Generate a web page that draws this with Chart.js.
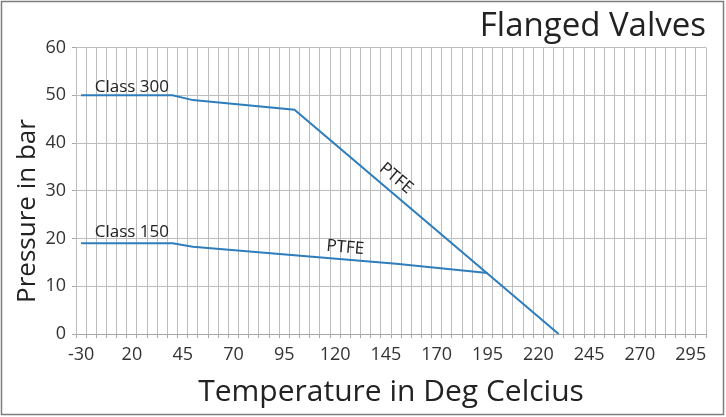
<!doctype html>
<html lang="en">
  <head>
    <title>Flanged Valves</title>
    <style>
      body { margin: 0; background: #fff; }
      #wrap { width: 726px; height: 417px; }
    </style>
  </head>
  <body>
  <div id="wrap"><canvas id="valves" width="726" height="417"></canvas></div>
  <script src="https://cdn.jsdelivr.net/npm/chart.js"></script>
  <script>

    // temperature categories (deg C)
    const temps = ['-30', '0', '5', '10', '15', '20', '25', '30', '35', '40', '45', '50', '55', '60', '65',
      '70', '75', '80', '85', '90', '95', '100', '105', '110', '115', '120', '125', '130', '135', '140',
      '145', '150', '155', '160', '165', '170', '175', '180', '185', '190', '195', '200', '205', '210',
      '215', '220', '225', '230', '235', '240', '245', '250', '255', '260', '265', '270', '275', '280',
      '285', '290', '295', '300'];

    const class300Temps = ['-30', '40', '50', '100', '230'];
    const class300Bar = [50, 50, 49, 47, 0];

    const class150Temps = ['-30', '40', '50', '100', '150', '195'];
    const class150Bar = [19, 19, 18.3, 16.5, 14.7, 12.8];

    const pressureTicks = [0, 10, 20, 30, 40, 50, 60];

    const FONT = '"Open Sans", "DejaVu Sans", sans-serif';
    const blue = '#2e7dbd';

    // text notes placed in data units
    const notes = [
      { text: 'Class 300', x: '20', y: 51.8, rot: 0 },
      { text: 'Class 150', x: '20', y: 21.4, rot: 0 },
      { text: 'PTFE', x: '150', y: 32.6, rot: 40 },
      { text: 'PTFE', x: '125', y: 18.1, rot: 5 }
    ];

    const toPoints = (xs, ys) => xs.map((t, i) => ({ x: t, y: ys[i] }));

    const extras = {
      id: 'extras',
      afterDraw(chart) {
        const c = chart.ctx;
        const xs = chart.scales.x, ys = chart.scales.y;
        c.save();
        c.fillStyle = '#222';
        c.font = '17px ' + FONT;
        c.textAlign = 'center';
        c.textBaseline = 'middle';
        notes.forEach(n => {
          const px = xs.getPixelForValue(temps.indexOf(n.x));
          const py = ys.getPixelForValue(n.y);
          c.save();
          c.translate(px, py);
          c.rotate(n.rot * Math.PI / 180);
          c.fillText(n.text, 0, 0);
          c.restore();
        });
        // y axis title, sits a bit below the plot middle like the original
        c.font = '26px ' + FONT;
        c.translate(28, 211);
        c.rotate(-Math.PI / 2);
        c.fillText('Pressure in bar', 0, 0);
        c.restore();
        // outer frame
        c.save();
        c.strokeStyle = '#7d7d7d';
        c.lineWidth = 1.5;
        c.strokeRect(1.5, 1.5, 722, 413);
        c.restore();
      }
    };

    new Chart(document.getElementById('valves'), {
      type: 'line',
      data: {
        labels: temps,
        datasets: [{
          label: 'Class 300',
          data: toPoints(class300Temps, class300Bar),
          borderColor: blue,
          borderWidth: 2,
          pointRadius: 0,
          tension: 0
        }, {
          label: 'Class 150',
          data: toPoints(class150Temps, class150Bar),
          borderColor: blue,
          borderWidth: 2,
          pointRadius: 0,
          tension: 0
        }]
      },
      options: {
        responsive: false,
        animation: false,
        layout: { padding: { left: 0, right: 20, top: 0, bottom: 0 } },
        plugins: {
          legend: { display: false },
          tooltip: { enabled: false },
          title: {
            display: true,
            text: 'Flanged Valves',
            align: 'end',
            color: '#222',
            font: { family: FONT, size: 33, weight: 'normal', lineHeight: 1.2 },
            padding: { top: 7, bottom: 1 }
          }
        },
        scales: {
          x: {
            type: 'category',
            offset: true,
            afterFit(s) { s.height = 83; },
            grid: { offset: true, color: '#bdbdbd', tickColor: '#a8a8a8', tickLength: 4 },
            border: { color: '#a8a8a8' },
            ticks: {
              autoSkip: false,
              maxRotation: 0,
              padding: 6,
              color: '#333',
              font: { family: FONT, size: 18 },
              callback: (v, i) => (i % 5 === 0 ? temps[i] : '')
            },
            title: {
              display: true,
              text: 'Temperature in Deg Celcius',
              color: '#222',
              font: { family: FONT, size: 30 },
              padding: { top: 0, bottom: 7 }
            }
          },
          y: {
            min: 0,
            max: 60,
            afterFit(s) { s.width = 76; },
            afterBuildTicks(s) { s.ticks = pressureTicks.map(v => ({ value: v })); },
            grid: { color: '#bdbdbd', tickColor: '#a8a8a8', tickLength: 4 },
            border: { color: '#bdbdbd' },
            ticks: {
              padding: 6,
              color: '#333',
              font: { family: FONT, size: 18 }
            }
          }
        }
      },
      plugins: [extras]
    });

  </script>
  </body>
</html>
